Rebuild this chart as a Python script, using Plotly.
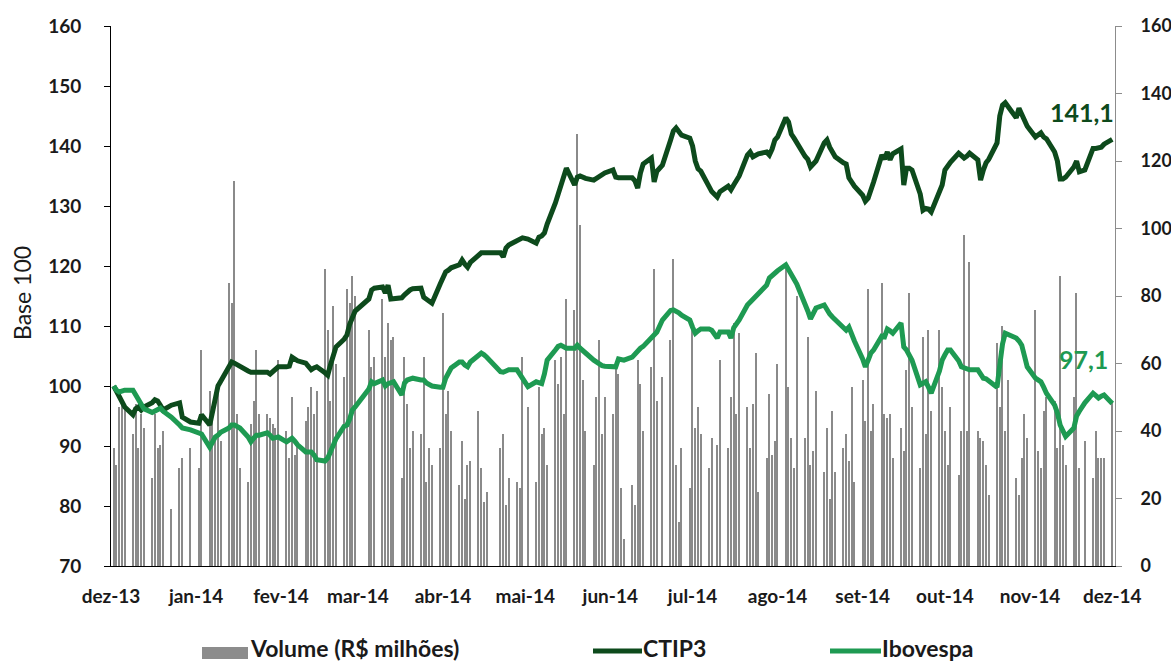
import pandas as pd
import plotly.graph_objects as go

# ---------------- data ----------------
holidays = ["2013-12-24", "2013-12-25", "2013-12-31", "2014-01-01", "2014-03-03",
            "2014-03-04", "2014-04-18", "2014-04-21", "2014-05-01", "2014-06-19",
            "2014-07-09", "2014-11-20"]
trading_days = pd.bdate_range("2013-12-02", "2014-12-01")
trading_days = trading_days[~trading_days.isin(pd.to_datetime(holidays))]

month_ticks = ["2013-12-01", "2014-01-01", "2014-02-01", "2014-03-01", "2014-04-01",
               "2014-05-01", "2014-06-01", "2014-07-01", "2014-08-01", "2014-09-01",
               "2014-10-01", "2014-11-01", "2014-12-01"]
month_labels = ["dez-13", "jan-14", "fev-14", "mar-14", "abr-14", "mai-14", "jun-14",
                "jul-14", "ago-14", "set-14", "out-14", "nov-14", "dez-14"]

ctip3 = [
    # dez-13
    100, 99, 98, 97, 96.5, 95.2, 96.2, 96.5, 96, 96.5, 97.2, 97.7, 97.5, 96.8, 96, 96.8, 97.2, 94.8, 94,
    # jan-14
    93.8, 95.2, 93.5, 96, 97.7, 100, 100.8, 103, 104, 103.8, 103.5, 103.2, 102.5, 102.3, 102.3, 102.3,
    102.4, 102.3, 102, 102.5, 103, 103.2,
    # fev-14
    103.2, 103.3, 104.8, 104.5, 104.2, 103.8, 103.3, 102.7, 103, 103.2, 102.2, 101.8, 103.5, 105, 106.5,
    107.8, 108.5, 110.3, 111.5, 112.5,
    # mar-14
    114.5, 116, 116.3, 116.5, 115.5, 116.8, 114.5, 114.5, 114.7, 115.2, 115.7, 116, 116.2, 116.3, 114.8,
    114.5, 114, 113.8, 117,
    # abr-14
    118.2, 119, 119.3, 119.7, 120.2, 121, 120.3, 119.8, 120.6, 121.7, 122.2, 122.2, 122.2, 122.2, 121.5,
    123, 123.5, 124.3, 124.5, 124.7,
    # mai-14
    124.5, 123.8, 124.8, 125, 125.5, 127, 130.5, 132, 133, 134.5, 136.3, 133.5, 134.8, 135, 134.8,
    134.6, 134.3, 134.6, 135, 135.2, 135.5,
    # jun-14
    136, 134.8, 134.7, 134.7, 134.7, 134.7, 134.2, 133, 135.5, 137, 138, 134, 135.8, 136.8, 141,
    142.5, 143, 142.3, 141.8, 141.3,
    # jul-14
    140, 137.5, 136.2, 135.8, 133.2, 132.4, 131.5, 132.4, 133.3, 132.7, 133.5, 134.2, 135, 138.5, 139,
    138.2, 138.5, 138.7, 139, 138.5, 139.5, 141,
    # ago-14
    141.5, 144.7, 144, 142, 141.3, 140.5, 138.3, 137.8, 136.5, 137, 137.5, 140.5, 141, 139.8, 139,
    138.2, 137.2, 137, 134.7, 134, 133.3,
    # set-14
    131.8, 130.8, 131.3, 132.5, 134, 138.5, 137.8, 139, 137.7, 138.7, 139.5, 133.5, 136.3, 136.3, 136,
    132, 129.3, 129.6, 129.5, 129, 132.4, 133.5,
    # out-14
    136, 136.8, 137.3, 138.8, 138.5, 138, 138.3, 138.8, 137.7, 134.3, 136, 137.2, 137.8, 140.5, 145,
    146.8, 147.2, 146.5, 144.7, 146.3, 145.3, 144.3, 143.3,
    # nov-14
    141.5, 141.8, 142.2, 141.5, 141.2, 139, 137.5, 134.5, 134.5, 134.8, 136.5, 137.5, 135.7, 136, 139.6,
    139.6, 139.7, 139.8, 140.3,
    # dez-14
    141.1,
]

ibovespa = [
    # dez-13
    100, 99.3, 99, 99.2, 99.3, 99.3, 98.5, 98, 96.8, 96.2, 95.6, 95.8, 96, 96.3, 95.8, 94.8, 93.5, 93, 92.7,
    # jan-14
    92.2, 92, 89.8, 90.8, 91.5, 91.8, 92.3, 93, 93.5, 93.5, 93.2, 93, 91.5, 90.7, 91.3, 91.8, 91.8,
    92.2, 91.8, 91.3, 91.4, 91.5,
    # fev-14
    90.7, 91, 91.3, 90.8, 90.2, 89, 89, 89, 88.5, 87.7, 87.5, 88, 89, 90, 91.2, 93.3, 93.5, 94.5, 96, 96.5,
    # mar-14
    99.5, 100.7, 100.4, 101, 100, 100.4, 100.5, 100.7, 98.5, 100.5, 101, 101.2, 101.3, 101, 101,
    100.5, 100.2, 100, 99.8,
    # abr-14
    99.8, 101.3, 102, 103, 104, 104, 103.5, 103.2, 104, 105.2, 105.5, 105.2, 104.8, 102.4, 102.3,
    102.5, 102.7, 102.7, 102, 101,
    # mai-14
    99.9, 100.7, 100.6, 100.4, 102, 104.3, 106, 106.6, 106.8, 106.5, 106.3, 106.3, 106.8, 106.3, 105.8,
    105.5, 104.3, 104, 103.6, 103.4, 103.3,
    # jun-14
    103.2, 103.2, 104.5, 104.5, 104.3, 104.8, 105.3, 106, 106.3, 106.6, 108.2, 108.5, 109, 111, 112.6,
    112.7, 112.5, 112.2, 111.8, 111,
    # jul-14
    109.8, 108.8, 109.2, 109.5, 109.5, 109.3, 108, 109, 109, 108, 109.7, 110.3, 111, 113.5, 114,
    114.5, 114.8, 115.3, 116.8, 118, 118.5, 119,
    # ago-14
    119.2, 120.2, 119.5, 118.5, 117.8, 117, 114, 112.5, 111.2, 112, 113, 113.5, 112.5, 112, 111.5,
    111, 109.5, 109.3, 109.8, 108.3, 107.5,
    # set-14
    104.5, 103.2, 104.3, 105.5, 106, 108.3, 108.2, 109.5, 109.2, 108.8, 110.5, 106.5, 106, 105.3, 104.3,
    100.2, 100.5, 100.7, 99.8, 98.8, 102.5, 104.3,
    # out-14
    105.2, 106, 106, 104.2, 103.2, 103, 102.8, 102.7, 102.7, 102, 101.3, 101.2, 100.8, 99.8, 103.5,
    107, 108.8, 108.6, 108, 107.5, 106.8, 105, 103.2,
    # nov-14
    101.3, 101, 100.7, 99.8, 98.8, 96.8, 95.5, 93.5, 92.3, 91.6, 93, 95, 95.8, 97.2, 98.8,
    98.5, 98, 98.3, 98.5,
    # dez-14
    97.1,
]

volume = [
    # dez-13
    35, 30, 47, 48, 47, 39, 48, 35, 45, 41, 26, 45, 35, 36, 40, 17, 29, 32, 35,
    # jan-14
    29, 64, 52, 43, 38, 54, 37, 84, 78, 114, 45, 29, 25, 42, 49, 64, 45, 45, 44, 42, 41, 61,
    # fev-14
    40, 32, 50, 33, 36, 43, 47, 53, 45, 52, 88, 70, 49, 77, 60, 56, 82, 78, 86, 80,
    # mar-14
    70, 59, 62, 79, 62, 72, 67, 68, 26, 62, 48, 35, 40, 39, 62, 25, 35, 30, 35,
    # abr-14
    75, 45, 52, 40, 24, 37, 20, 30, 31, 46, 29, 19, 22, 35, 39, 18, 26, 25, 23, 62,
    # mai-14
    47, 25, 53, 39, 41, 30, 61, 54, 62, 45, 79, 76, 128, 101, 55, 40, 30, 50, 67, 39, 50,
    # jun-14
    45, 59, 57, 23, 8, 24, 18, 61, 54, 40, 59, 88, 49, 56, 67, 91, 30, 13, 35, 23,
    # jul-14
    70, 41, 47, 39, 29, 38, 36, 61, 35, 50, 72, 45, 69, 47, 35, 48, 63, 22, 32, 51, 33, 37,
    # ago-14
    60, 88, 53, 38, 29, 80, 38, 68, 30, 34, 52, 28, 41, 20, 46, 28, 35, 39, 31, 53, 25,
    # set-14
    55, 43, 82, 40, 48, 84, 45, 44, 45, 32, 41, 34, 58, 81, 47, 29, 68, 39, 70, 46, 70, 53,
    # out-14
    40, 30, 47, 27, 40, 98, 40, 90, 40, 38, 37, 30, 21, 66, 47, 71, 40, 55, 26, 21, 32, 45, 38,
    # nov-14
    76, 34, 29, 46, 50, 49, 35, 86, 36, 30, 50, 81, 29, 37, 26, 40, 32, 32, 32,
    # dez-14
    49,
]

last_ctip3_label = "141,1"
last_ibov_label = "97,1"

assert len(ctip3) == len(trading_days) == len(ibovespa) == len(volume), (
    len(ctip3), len(ibovespa), len(volume), len(trading_days))

# ---------------- styles ----------------
DARK = "#0d4a1c"
LIGHT = "#1e9a52"
GRAY = "#8a8a8a"
TXT = "#1a1a1a"
FONT = "Lato"
W, H = 1171, 662
L, R, T, B = 111, 56, 26, 96
PW, PH = W - L - R, H - T - B


def px(xp):
    return (xp - L) / PW


def py(yp):
    return 1 - (yp - T) / PH


fig = go.Figure()
fig.add_trace(go.Bar(
    x=trading_days, y=volume, yaxis="y", name="Volume (R$ milhões)",
    marker=dict(color=GRAY, line=dict(width=0)), width=0.45 * 86400000,
    showlegend=False,
))
fig.add_trace(go.Scatter(
    x=trading_days, y=ctip3, yaxis="y2", mode="lines", name="CTIP3",
    line=dict(color=DARK, width=5), showlegend=False,
))
fig.add_trace(go.Scatter(
    x=trading_days, y=ibovespa, yaxis="y2", mode="lines", name="Ibovespa",
    line=dict(color=LIGHT, width=5), showlegend=False,
))

tickfont = dict(family=FONT, size=19, color=TXT, weight="bold")
rtickfont = dict(family=FONT, size=18, color=TXT, weight="bold")

fig.update_layout(
    width=W, height=H,
    margin=dict(l=L, r=R, t=T, b=B, autoexpand=False),
    paper_bgcolor="white", plot_bgcolor="white",
    bargap=0,
    showlegend=False,
    xaxis=dict(
        type="date", range=["2013-12-01", "2014-12-02"],
        tickvals=month_ticks, ticktext=month_labels, tickfont=tickfont,
        showline=True, linecolor="black", linewidth=1, ticks="",
        showgrid=False, zeroline=False, ticklabelstandoff=13, automargin=False,
    ),
    yaxis=dict(
        side="right", range=[0, 160], dtick=20, tickfont=rtickfont,
        showline=True, linecolor="#8c8c8c", linewidth=1,
        ticks="outside", ticklen=6, tickcolor="#8c8c8c",
        showgrid=False, zeroline=False, ticklabelstandoff=15, automargin=False,
    ),
    yaxis2=dict(
        overlaying="y", side="left", range=[70, 160], dtick=10, tickfont=tickfont,
        showline=True, linecolor="black", linewidth=1,
        ticks="outside", ticklen=6, tickcolor="black",
        showgrid=False, zeroline=False, ticklabelstandoff=19, automargin=False,
    ),
)

annotations = [
    dict(text="Base 100", x=px(22), y=py(293), xref="paper", yref="paper",
         textangle=-90, showarrow=False, xanchor="center", yanchor="middle",
         font=dict(family=FONT, size=23, color=TXT)),
    dict(text=last_ctip3_label, x=px(1116), y=py(112), xref="paper", yref="paper",
         showarrow=False, xanchor="right", yanchor="middle",
         font=dict(family=FONT, size=25, color=DARK, weight="bold")),
    dict(text=last_ibov_label, x=px(1110), y=py(359), xref="paper", yref="paper",
         showarrow=False, xanchor="right", yanchor="middle",
         font=dict(family=FONT, size=25, color=LIGHT, weight="bold")),
    dict(text="Volume (R$ milhões)", x=px(248), y=py(648), xref="paper", yref="paper",
         showarrow=False, xanchor="left", yanchor="middle",
         font=dict(family=FONT, size=23, color=TXT, weight="bold")),
    dict(text="CTIP3", x=px(641), y=py(648), xref="paper", yref="paper",
         showarrow=False, xanchor="left", yanchor="middle",
         font=dict(family=FONT, size=23, color=TXT, weight="bold")),
    dict(text="Ibovespa", x=px(880), y=py(648), xref="paper", yref="paper",
         showarrow=False, xanchor="left", yanchor="middle",
         font=dict(family=FONT, size=23, color=TXT, weight="bold")),
]
fig.update_layout(annotations=annotations)

shapes = [
    dict(type="rect", xref="paper", yref="paper", x0=px(202), x1=px(248),
         y0=py(659), y1=py(647), fillcolor="#8c8c8c", line=dict(width=0)),
    dict(type="line", xref="paper", yref="paper", x0=px(593), x1=px(642),
         y0=py(651), y1=py(651), line=dict(color=DARK, width=5)),
    dict(type="line", xref="paper", yref="paper", x0=px(830), x1=px(881),
         y0=py(651), y1=py(651), line=dict(color=LIGHT, width=5)),
]
fig.update_layout(shapes=shapes)

fig.write_html("out.html", config={"displayModeBar": False},
               post_script="document.body.style.margin='0px';")
